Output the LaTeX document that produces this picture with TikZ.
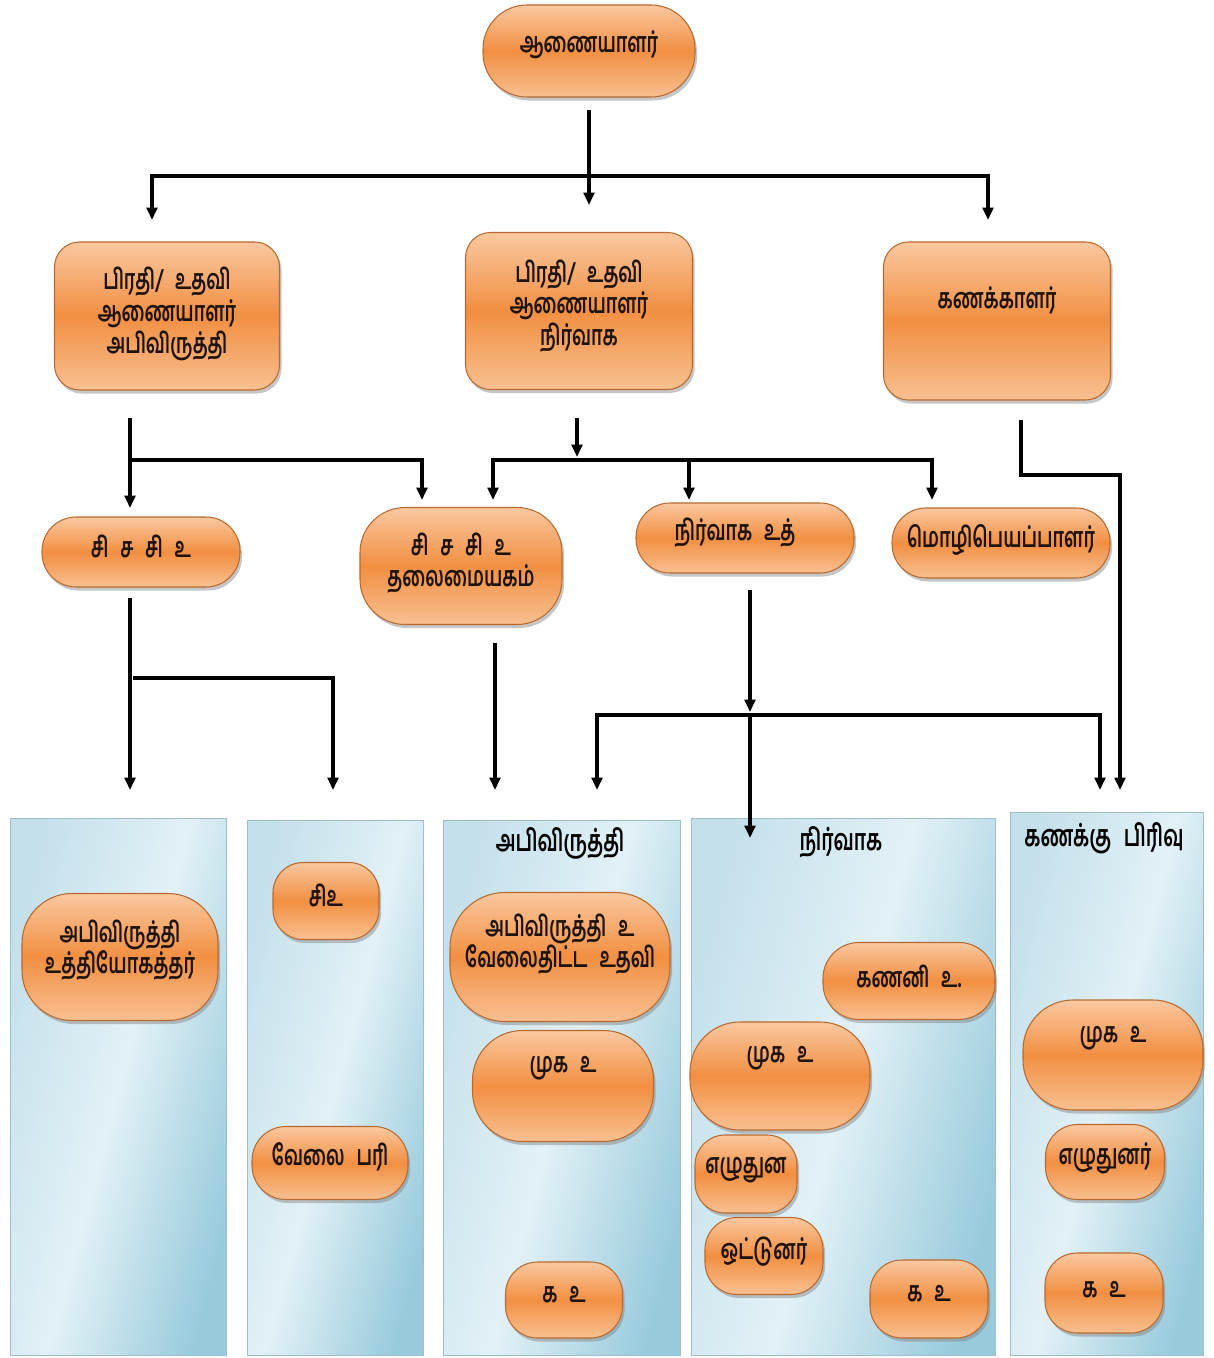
\documentclass[tikz,border=0pt]{standalone}
\usepackage{fontspec}
\newfontfamily\ta[Script=Tamil,FakeStretch=0.66]{Hind Madurai}
\newcommand\wsp{\spaceskip=0.42em\relax}
\usetikzlibrary{shadows,arrows.meta,calc}
\definecolor{orT}{RGB}{250,200,160}
\definecolor{orM}{RGB}{241,143,66}
\definecolor{orB}{RGB}{248,192,145}
\definecolor{orD}{RGB}{185,105,45}
\definecolor{blL}{RGB}{196,224,235}
\definecolor{blM}{RGB}{226,241,246}
\definecolor{blR}{RGB}{152,202,220}
\definecolor{blD}{RGB}{160,190,202}
\begin{document}
\begin{tikzpicture}[x=0.02cm,y=-0.02cm,
  ob/.style n args={3}{draw=orD, line width=0.6pt, top color=orT, bottom color=orB, middle color=orM,
     minimum width=#1*0.02cm, minimum height=#2*0.02cm, rounded corners=#3*0.02cm, inner sep=0pt,
     drop shadow={opacity=0.45, shadow xshift=1.2pt, shadow yshift=-2pt}},
  pan/.style 2 args={draw=blD, line width=0.5pt, left color=blL, right color=blR, middle color=blM,
     shading angle=75,
     minimum width=#1*0.02cm, minimum height=#2*0.02cm, inner sep=0pt},
  txt/.style={font=\ta\bfseries\fontsize{16}{18}\selectfont\wsp, align=center, inner sep=0pt, text=black!85!brown},
  ttl/.style={font=\ta\bfseries\fontsize{17}{19}\selectfont\wsp, align=center, inner sep=0pt, text=black},
  ln/.style={line width=2pt, draw=black},
  ar/.style={ln, -{Triangle[length=7pt,width=6pt]}}]
\useasboundingbox (0,0) rectangle (1213,1358);

% ---- panels
\node[pan={216}{537}] (p1) at (118,1086.5) {};
\node[pan={176}{535}] (p2) at (335,1087.5) {};
\node[pan={237}{535}] (p3) at (561.5,1087.5) {};
\node[pan={304}{537}] (p4) at (843,1086.5) {};
\node[pan={193}{543}] (p5) at (1106.5,1083.5) {};
\node[ttl] (p3t) at (560,843) {அபிவிருத்தி};
\node[ttl] (p4t) at (841,842) {நிர்வாக};
\node[ttl] (p5t) at (1104,838) {கணக்கு பிரிவு};

% ---- level 0 / 1 / 2
\node[ob={212}{92}{44}] (top) at (589,51) {};
\node[txt] (top-t) at (589,45) {ஆணையாளர்};
\node[ob={225}{148}{25}] (l1a) at (167,316) {};
\node[txt] (l1a-t) at (167,314) {பிரதி/ உதவி\\ஆணையாளர்\\அபிவிருத்தி};
\node[ob={227}{157}{25}] (l1b) at (579,311) {};
\node[txt] (l1b-t) at (579,306) {பிரதி/ உதவி\\ஆணையாளர்\\நிர்வாக};
\node[ob={227}{158}{25}] (l1c) at (997,321) {};
\node[txt] (l1c-t) at (997,300) {கணக்காளர்};

\node[ob={198}{70}{34}] (l2a) at (141,552) {};
\node[txt] (l2a-t) at (141,546) {சி ச சி உ};
\node[ob={202}{117}{45}] (l2b) at (461,566) {};
\node[txt] (l2b-t) at (461,563) {சி ச சி உ\\தலைமையகம்};
\node[ob={218}{70}{34}] (l2c) at (745,538) {};
\node[txt] (l2c-t) at (735,533) {நிர்வாக உத்};
\node[ob={218}{70}{34}] (l2d) at (1001,543) {};
\node[txt] (l2d-t) at (1001,540) {மொழிபெயப்பாளர்};

% ---- panel contents
\node[ob={196}{127}{50}] (a1) at (120,957) {};
\node[txt] (a1-t) at (120,950) {அபிவிருத்தி\\உத்தியோகத்தர்};
\node[ob={106}{77}{30}] (b1) at (326,901) {};
\node[txt] (b1-t) at (326,895) {சிஉ};
\node[ob={156}{73}{34}] (b2) at (330,1163) {};
\node[txt] (b2-t) at (330,1157) {வேலை பரி};
\node[ob={220}{129}{55}] (c1) at (560,957) {};
\node[txt] (c1-t) at (560,944) {அபிவிருத்தி உ\\வேலைதிட்ட உதவி};
\node[ob={181}{111}{50}] (c2) at (563,1086) {};
\node[txt] (c2-t) at (563,1068) {முக உ};
\node[ob={117}{76}{32}] (c3) at (564,1300) {};
\node[txt] (c3-t) at (564,1295) {க உ};
\node[ob={172}{77}{36}] (d1) at (909,981) {};
\node[txt] (d1-t) at (909,976) {கணனி உ.};
\node[ob={180}{108}{50}] (d2) at (780,1076) {};
\node[txt] (d2-t) at (780,1058) {முக உ};
\node[ob={102}{78}{30}] (d3) at (746,1174) {};
\node[txt] (d3-t) at (746,1170) {எழுதுன};
\node[ob={118}{77}{32}] (d4) at (764,1256) {};
\node[txt] (d4-t) at (764,1252) {ஒட்டுனர்};
\node[ob={118}{78}{32}] (d5) at (929,1299) {};
\node[txt] (d5-t) at (929,1294) {க உ};
\node[ob={180}{110}{50}] (e1) at (1113,1055) {};
\node[txt] (e1-t) at (1113,1038) {முக உ};
\node[ob={119}{75}{32}] (e2) at (1105,1162) {};
\node[txt] (e2-t) at (1105,1158) {எழுதுனர்};
\node[ob={118}{80}{32}] (e3) at (1104,1293) {};
\node[txt] (e3-t) at (1104,1290) {க உ};

% ---- connector points
\coordinate (t-out) at (589,110);
\coordinate (t-bus) at (589,176);
\coordinate (l1a-in) at (152,220);
\coordinate (l1b-in) at (589,205);
\coordinate (l1c-in) at (988,220);

\coordinate (a-out) at (130,418);
\coordinate (a-bus) at (130,460);
\coordinate (l2a-in) at (130,508);
\coordinate (l2b-in) at (422,500);

\coordinate (b-out) at (577,418);
\coordinate (b-arr) at (577,457);
\coordinate (b-bus) at (689,460);
\coordinate (l2b-in2) at (493,500);
\coordinate (l2c-in) at (689,500);
\coordinate (l2d-in) at (932,500);

\coordinate (c-out) at (1021,420);
\coordinate (c-bend) at (1021,475);
\coordinate (p5-in) at (1120,790);

\coordinate (a2-out) at (130,598);
\coordinate (a2-bus) at (133,678);
\coordinate (p1-in) at (130,790);
\coordinate (p2-in) at (333,790);

\coordinate (b2-out) at (495,643);
\coordinate (p3-in) at (495,790);

\coordinate (c2-out) at (750,590);
\coordinate (c2-mid) at (750,712);
\coordinate (c2-bus) at (750,715);
\coordinate (p3-in2) at (597,790);
\coordinate (p4-in) at (750,838);
\coordinate (p5-in2) at (1100,790);

% ---- connectors
\draw[ar] (t-out) -- (l1b-in);
\draw[ar] (t-bus) -| (l1a-in);
\draw[ar] (t-bus) -| (l1c-in);

\draw[ar] (a-out) -- (l2a-in);
\draw[ar] (a-bus) -| (l2b-in);

\draw[ar] (b-out) -- (b-arr);
\draw[ar] (b-bus) -| (l2b-in2);
\draw[ar] (b-bus) -| (l2d-in);
\draw[ar] (b-bus) -- (l2c-in);

\draw[ar] (c-out) -- (c-bend) -| (p5-in);

\draw[ar] (a2-out) -- (p1-in);
\draw[ar] (a2-bus) -| (p2-in);

\draw[ar] (b2-out) -- (p3-in);

\draw[ar] (c2-out) -- (c2-mid);
\draw[ar] (c2-bus) -- (p4-in);
\draw[ar] (c2-bus) -| (p3-in2);
\draw[ar] (c2-bus) -| (p5-in2);
\end{tikzpicture}
\end{document}
